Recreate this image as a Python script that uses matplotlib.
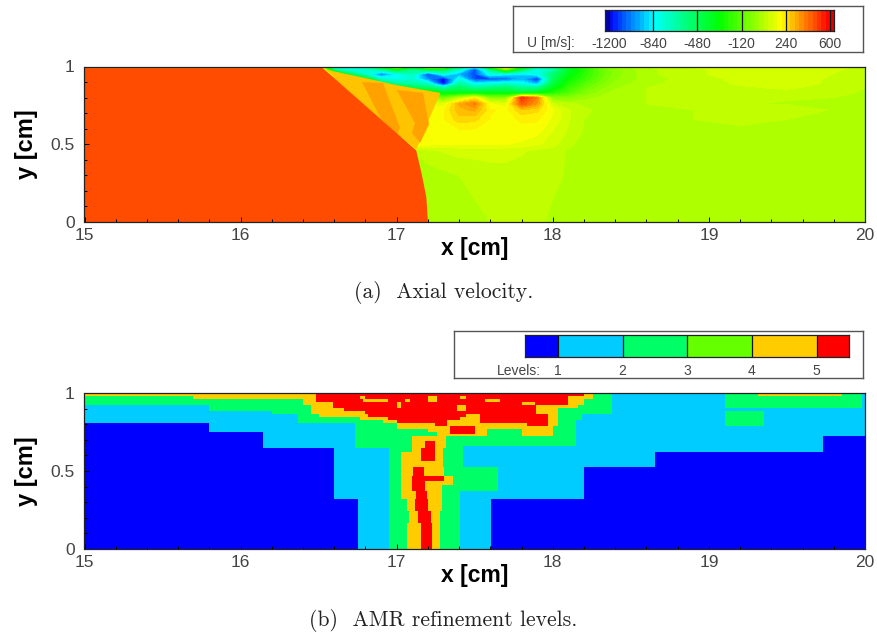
import numpy as np
import matplotlib
matplotlib.use("Agg")
import matplotlib.pyplot as plt
from matplotlib.colors import LinearSegmentedColormap, Normalize, ListedColormap

plt.rcParams['font.family'] = ['Liberation Sans', 'DejaVu Sans']

W, H = 878, 635
X_TICKS = [15, 16, 17, 18, 19, 20]
Y_TICKS = [0, 0.5, 1]
Y_TICKLABELS = ['0', '0.5', '1']

# ---- axial velocity field U [m/s]
ux = [15, 16.5, 16.6, 16.7, 16.8, 16.9, 17.0, 17.1, 17.2, 17.3, 17.4, 17.5, 17.6, 17.7, 17.8, 17.9, 18.0, 18.1, 18.2,
      18.3, 18.4, 18.6, 18.9, 19.2, 19.5, 19.8, 20]
uy = [1.0, 0.98, 0.95, 0.92, 0.89, 0.86, 0.83, 0.80, 0.76, 0.72, 0.66, 0.58, 0.50, 0.46, 0.30, 0.15, 0.0]
u_rows = [
    [250, 250, -650, -700, -600, -300, 100, -300, 150, 100, -500, -800, -100, 350, -200, -600, -500, -300, -200, -50, 0, 60, 100, 120, 120, 110, 90],
    [470, 470, -700, -800, -750, -650, -400, -600, -500, -500, -750, -1100, -600, -100, -500, -800, -700, -400, -250, -120, -30, 50, 90, 110, 120, 100, 85],
    [470, 470, 100, -500, -750, -1050, -850, -700, -1120, -800, -950, -1100, -800, -850, -900, -800, -550, -350, -220, -120, -30, 50, 90, 110, 120, 95, 80],
    [470, 470, 300, 100, -350, -750, -800, -750, -1000, -1190, -800, -1100, -1100, -1080, -950, -1150, -500, -300, -200, -100, -20, 40, 80, 105, 115, 90, 70],
    [470, 470, 300, 250, 0, -450, -650, -650, -750, -1200, -650, -850, -800, -750, -800, -950, -450, -250, -150, -70, 0, 50, 80, 100, 110, 90, 70],
    [470, 470, 300, 280, 250, 100, -200, -450, -500, -650, -500, -600, -550, -500, -600, -600, -350, -200, -100, -30, 20, 60, 80, 90, 100, 80, 60],
    [470, 470, 300, 300, 290, 260, 150, -100, -250, -350, -350, -350, -350, -350, -400, -350, -250, -150, -60, 0, 40, 60, 70, 80, 80, 70, 55],
    [470, 470, 300, 300, 290, 290, 280, 200, 50, -100, 50, 200, -50, -50, 520, 380, -50, -50, 0, 30, 50, 60, 70, 70, 65, 60, 50],
    [470, 470, 300, 300, 290, 290, 290, 250, 150, 150, 320, 390, 170, 150, 450, 340, 100, 70, 50, 50, 50, 60, 70, 65, 55, 50, 45],
    [470, 470, 300, 300, 290, 290, 290, 250, 190, 200, 300, 320, 210, 190, 270, 250, 170, 100, 70, 50, 45, 50, 60, 70, 90, 55, 40],
    [470, 470, 300, 300, 290, 290, 290, 250, 190, 200, 260, 250, 200, 190, 210, 210, 160, 100, 60, 45, 40, 45, 60, 70, 60, 45, 35],
    [470, 470, 300, 300, 290, 290, 290, 250, 200, 190, 190, 190, 190, 190, 190, 180, 130, 90, 55, 45, 35, 35, 45, 50, 45, 35, 30],
    [470, 470, 300, 300, 290, 290, 290, 200, 180, 170, 170, 170, 170, 170, 160, 140, 110, 70, 45, 35, 30, 30, 35, 40, 35, 30, 30],
    [60, 60, 60, 60, 60, 60, 60, 60, 90, 100, 110, 110, 110, 110, 100, 90, 80, 55, 40, 30, 30, 30, 30, 35, 30, 30, 30],
    [35, 35, 35, 35, 35, 35, 35, 35, 35, 50, 60, 70, 80, 80, 80, 70, 70, 55, 40, 30, 30, 30, 30, 30, 30, 30, 28],
    [30, 30, 30, 30, 30, 30, 30, 30, 30, 35, 50, 60, 70, 70, 70, 70, 60, 50, 40, 30, 30, 30, 30, 30, 30, 28, 28],
    [35, 35, 35, 35, 35, 35, 35, 35, 35, 35, 45, 55, 60, 65, 65, 65, 55, 45, 35, 30, 30, 28, 28, 28, 28, 28, 28],
]

# regions with sharp edges: pre-shock gas, wedge behind the oblique shock, darker wedge stripes
preshock_x = [15, 16.50, 16.52, 17.125, 17.16, 17.19, 17.20, 15]
preshock_y = [0.985, 0.985, 0.995, 0.46, 0.31, 0.16, 0.0, 0.0]
preshock_u = 470
wedge_x = [16.547, 16.8, 17.0, 17.28, 17.2, 17.125]
wedge_y = [0.98, 0.925, 0.88, 0.83, 0.645, 0.465]
wedge_u = 290
stripe1_x = [16.778, 16.912, 17.02, 17.0, 16.893]
stripe1_y = [0.90, 0.894, 0.611, 0.547, 0.675]
stripe2_x = [17.0, 17.168, 17.207, 17.15, 17.098, 17.117]
stripe2_y = [0.849, 0.83, 0.63, 0.508, 0.572, 0.637]
stripe_u = 340

U_LEVELS = [-1200, -840, -480, -120, 240, 600]
U_STEP = 36

# ---- AMR levels, code: 1 blue, 2 cyan, 3 spring green, 4 orange, 5 red
amr_y = [1.0, .981, .962, .942, .923, .904, .885, .865, .846, .827, .808, .788, .769, .75, .737, .724, .692, .66, .647,
         .622, .564, .526, .468, .436, .41, .372, .321, .244, .167, 0]
amr_rows = [
    [(16.48, 4), (18.20, 5), (18.26, 4), (18.38, 3), (19.10, 2), (19.315, 3), (19.85, 4), (19.98, 3), (20, 2)],
    [(15.695, 3), (16.48, 4), (16.765, 5), (16.80, 4), (17.20, 5), (17.26, 4), (17.405, 5), (17.445, 4), (18.10, 5), (18.26, 4), (18.38, 3), (19.10, 2), (19.98, 3), (20, 2)],
    [(16.40, 3), (16.48, 4), (16.785, 5), (16.945, 4), (17.05, 5), (17.085, 4), (17.20, 5), (17.26, 4), (17.565, 5), (17.66, 4), (18.10, 5), (18.20, 4), (18.38, 3), (19.10, 2), (19.98, 3), (20, 2)],
    [(16.40, 3), (16.59, 4), (17.00, 5), (17.03, 4), (17.80, 5), (17.885, 4), (18.10, 5), (18.20, 4), (18.38, 3), (19.10, 2), (19.98, 3), (20, 2)],
    [(15.798, 2), (16.45, 3), (16.59, 4), (17.00, 5), (17.03, 4), (17.385, 5), (17.445, 4), (17.89, 5), (18.16, 4), (18.38, 3), (19.10, 2), (19.98, 3), (20, 2)],
    [(15.798, 2), (16.45, 3), (16.66, 4), (17.385, 5), (17.445, 4), (17.89, 5), (18.035, 4), (18.38, 3), (20, 2)],
    [(16.20, 2), (16.45, 3), (16.80, 4), (17.89, 5), (18.035, 4), (18.38, 3), (19.10, 2), (19.355, 3), (20, 2)],
    [(16.37, 2), (16.50, 3), (16.815, 4), (17.445, 5), (17.535, 4), (17.97, 5), (18.035, 4), (18.19, 3), (19.10, 2), (19.355, 3), (20, 2)],
    [(16.37, 2), (16.765, 3), (16.945, 4), (17.405, 5), (17.535, 4), (17.97, 5), (18.035, 4), (18.19, 3), (19.10, 2), (19.355, 3), (20, 2)],
    [(16.37, 2), (16.91, 3), (17.00, 4), (17.32, 5), (17.535, 4), (17.97, 5), (18.035, 4), (18.15, 3), (19.10, 2), (19.355, 3), (20, 2)],
    [(15.798, 1), (16.73, 2), (17.00, 3), (17.245, 4), (17.32, 5), (17.835, 4), (17.97, 5), (18.035, 4), (18.15, 3), (19.10, 2), (19.355, 3), (20, 2)],
    [(15.798, 1), (16.73, 2), (17.00, 3), (17.34, 4), (17.50, 5), (18.00, 4), (18.15, 3), (20, 2)],
    [(15.798, 1), (16.73, 2), (17.20, 3), (17.34, 4), (17.50, 5), (17.58, 4), (17.80, 3), (18.00, 4), (18.15, 3), (20, 2)],
    [(16.143, 1), (16.73, 2), (17.26, 3), (17.34, 4), (17.50, 5), (17.58, 4), (17.80, 3), (18.00, 4), (18.15, 3), (20, 2)],
    [(16.143, 1), (16.73, 2), (17.26, 3), (17.58, 4), (17.80, 3), (18.00, 4), (18.15, 3), (20, 2)],
    [(16.143, 1), (16.73, 2), (17.10, 3), (17.315, 4), (18.15, 3), (19.73, 2), (20, 1)],
    [(16.143, 1), (16.73, 2), (17.10, 3), (17.18, 4), (17.245, 5), (17.315, 4), (18.15, 3), (19.73, 2), (20, 1)],
    [(16.143, 1), (16.73, 2), (17.10, 3), (17.18, 4), (17.245, 5), (17.315, 4), (17.425, 3), (19.73, 2), (20, 1)],
    [(16.60, 1), (16.95, 2), (17.10, 3), (17.155, 4), (17.245, 5), (17.295, 4), (17.425, 3), (19.73, 2), (20, 1)],
    [(16.60, 1), (16.95, 2), (17.03, 3), (17.155, 4), (17.245, 5), (17.295, 4), (17.425, 3), (18.655, 2), (20, 1)],
    [(16.60, 1), (16.95, 2), (17.03, 3), (17.295, 4), (17.425, 3), (18.655, 2), (20, 1)],
    [(16.60, 1), (16.95, 2), (17.03, 3), (17.105, 4), (17.175, 5), (17.30, 4), (17.65, 3), (18.20, 2), (20, 1)],
    [(16.60, 1), (16.95, 2), (17.03, 3), (17.095, 4), (17.305, 5), (17.36, 4), (17.65, 3), (18.20, 2), (20, 1)],
    [(16.60, 1), (16.95, 2), (17.03, 3), (17.095, 4), (17.18, 5), (17.36, 4), (17.65, 3), (18.20, 2), (20, 1)],
    [(16.60, 1), (16.95, 2), (17.03, 3), (17.095, 4), (17.18, 5), (17.29, 4), (17.65, 3), (18.20, 2), (20, 1)],
    [(16.60, 1), (16.95, 2), (17.03, 3), (17.125, 4), (17.195, 5), (17.29, 4), (17.405, 3), (18.20, 2), (20, 1)],
    [(16.75, 1), (16.95, 2), (17.065, 3), (17.12, 4), (17.20, 5), (17.29, 4), (17.405, 3), (17.605, 2), (20, 1)],
    [(16.75, 1), (16.95, 2), (17.08, 3), (17.135, 4), (17.22, 5), (17.28, 4), (17.405, 3), (17.605, 2), (20, 1)],
    [(16.75, 1), (16.95, 2), (17.065, 3), (17.155, 4), (17.225, 5), (17.28, 4), (17.405, 3), (17.605, 2), (20, 1)],
]
LEVEL_TICKS = [1, 2, 3, 4, 5]
LEVEL_BAR_COLORS = ['#0000ff', '#00ccff', '#00ff66', '#66ff00', '#ffcc00', '#ff0000']
AMR_CODE_COLORS = ['#0000ff', '#00ccff', '#00ff66', '#ffcc00', '#ff0000']

cmap = LinearSegmentedColormap.from_list('tec', [
    (0.0, '#000080'), ((-1200 + 1236) / 1872, '#0000ff'), ((-840 + 1236) / 1872, '#00ffff'),
    ((-300 + 1236) / 1872, '#00ff00'), ((200 + 1236) / 1872, '#ffff00'), ((590 + 1236) / 1872, '#ff0000'),
    (1.0, '#d00000')], N=256)
norm = Normalize(-1236, 636)
TEXT_GRAY = '#444444'


def px_axes(l, t, r, b):
    return fig.add_axes([l / W, 1 - b / H, (r - l) / W, (b - t) / H])


def style_plot(ax):
    ax.set_xlim(15, 20)
    ax.set_ylim(0, 1)
    ax.set_xticks(X_TICKS)
    ax.set_xticks(np.arange(15, 20.01, 0.2), minor=True)
    ax.set_yticks(Y_TICKS)
    ax.set_yticklabels(Y_TICKLABELS)
    ax.set_yticks(np.arange(0, 1.01, 0.1), minor=True)
    ax.tick_params(which='major', direction='in', length=3.6, width=0.7, labelsize=12.5, labelcolor=TEXT_GRAY)
    ax.tick_params(which='minor', direction='in', length=2.2, width=0.7)
    ax.tick_params(axis='x', which='major', pad=4.5)
    ax.tick_params(axis='y', which='major', pad=7)
    for s in ax.spines.values():
        s.set_linewidth(0.9)
        s.set_color('#222222')
    ax.set_xlabel('x [cm]', fontsize=16.5, fontweight='bold')
    ax.set_ylabel('y [cm]', fontsize=17, fontweight='bold')
    ax.xaxis.set_label_coords((475 - 84.5) / 780.5, -(248 - 222) / 155.5)
    ax.xaxis.label.set_verticalalignment('center')
    ax.yaxis.set_label_coords(-(84.5 - 27) / 780.5, 0.5)
    ax.yaxis.label.set_verticalalignment('center')


def legend_box(l, t, r, b):
    box = px_axes(l, t, r, b)
    box.set_xticks([])
    box.set_yticks([])
    for s in box.spines.values():
        s.set_linewidth(1.0)
        s.set_color('#555555')
    return box


fig = plt.figure(figsize=(W / 100, H / 100), dpi=100, facecolor='white')

# ---- panel (a)
ax = px_axes(84.5, 66.5, 865, 222)
levels = np.arange(-1236, 637, U_STEP)
ax.contourf(ux, uy, np.array(u_rows, dtype=float), levels=levels, cmap=cmap, norm=norm, extend='both')
ax.fill(wedge_x, wedge_y, color=cmap(norm(wedge_u)), lw=0)
ax.fill(stripe1_x, stripe1_y, color=cmap(norm(stripe_u)), lw=0)
ax.fill(stripe2_x, stripe2_y, color=cmap(norm(stripe_u)), lw=0)
ax.fill(preshock_x, preshock_y, color=cmap(norm(preshock_u)), lw=0)
style_plot(ax)

legend_box(513, 6, 863, 51.5)
bar = px_axes(605, 9.5, 834, 31)
bar.pcolormesh(levels, [0, 1], (levels[:-1] + U_STEP / 2)[None, :], cmap=cmap, norm=norm, shading='flat')
bar.set_xlim(-1230, 630)
bar.set_ylim(0, 1)
bar.set_xticks([])
bar.set_yticks([])
for v in U_LEVELS:
    bar.axvline(v, color='#111111', lw=0.9)
for s in bar.spines.values():
    s.set_linewidth(0.9)
    s.set_color('#222222')
for v in U_LEVELS:
    fx = 605 + (v + 1230) / 1860 * 229
    fig.text(fx / W, 1 - 43.5 / H, str(v), ha='center', va='center', fontsize=10, color=TEXT_GRAY)
fig.text(527 / W, 1 - 43.5 / H, 'U [m/s]:', ha='left', va='center', fontsize=10, color=TEXT_GRAY)

# ---- panel (b)
ax2 = px_axes(84.5, 393, 865, 549)
xs = np.array(sorted({e for row in amr_rows for e, _ in row} | {15.0}))
codes = np.zeros((len(amr_rows), len(xs) - 1))
centers = 0.5 * (xs[:-1] + xs[1:])
for i, row in enumerate(amr_rows):
    ends = np.array([e for e, _ in row])
    vals = np.array([c for _, c in row])
    codes[i] = vals[np.searchsorted(ends, centers)]
ax2.pcolormesh(xs, amr_y, codes, cmap=ListedColormap(AMR_CODE_COLORS), vmin=0.5, vmax=5.5, shading='flat', antialiased=False)
style_plot(ax2)

legend_box(454, 331, 863, 378)
bar2 = px_axes(525.5, 335, 849, 357)
edges = [0.5, 1, 2, 3, 4, 5, 5.5]
bar2.pcolormesh(edges, [0, 1], np.arange(6)[None, :], cmap=ListedColormap(LEVEL_BAR_COLORS), vmin=-0.5, vmax=5.5, shading='flat')
bar2.set_xlim(edges[0], edges[-1])
bar2.set_ylim(0, 1)
bar2.set_xticks([])
bar2.set_yticks([])
for v in LEVEL_TICKS:
    bar2.axvline(v, color='#111111', lw=0.9)
for s in bar2.spines.values():
    s.set_linewidth(0.9)
    s.set_color('#222222')
for v in LEVEL_TICKS:
    fx = 525.5 + (v - 0.5) / 5.0 * (849 - 525.5)
    fig.text(fx / W, 1 - 371 / H, str(v), ha='center', va='center', fontsize=10, color=TEXT_GRAY)
fig.text(497 / W, 1 - 371 / H, 'Levels:', ha='left', va='center', fontsize=10, color=TEXT_GRAY)

# ---- captions
fig.text(444 / W, 1 - 293 / H, '(a)  Axial velocity.', ha='center', va='center', family='cmr10', fontsize=15.6, color='#222222')
fig.text(443 / W, 1 - 621 / H, '(b)  AMR refinement levels.', ha='center', va='center', family='cmr10', fontsize=15.6, color='#222222')

fig.savefig('out.png', dpi=100)
